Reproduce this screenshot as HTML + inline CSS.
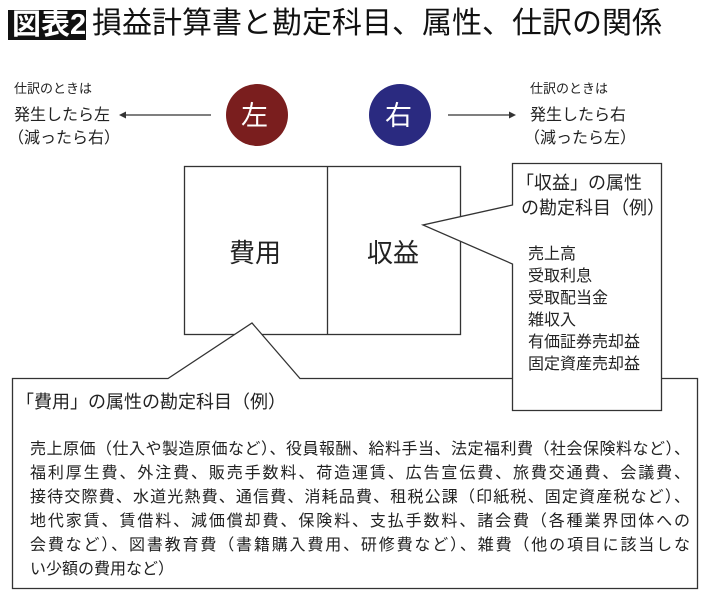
<!DOCTYPE html>
<html><head><meta charset="utf-8"><style>
body{margin:0;background:#fff;width:710px;height:591px;overflow:hidden;position:relative;font-family:"Liberation Sans","Noto Sans CJK JP",sans-serif;color:#222}
.a{position:absolute;white-space:nowrap}
.j{position:absolute;left:30px;width:660px;text-align:justify;text-align-last:justify;font-size:16px;white-space:nowrap;}
</style></head><body>
<svg width="710" height="591" style="position:absolute;left:0;top:0">
<rect x="8" y="10" width="78" height="30" fill="#111"/>
<circle cx="257" cy="115" r="31" fill="#7a1e1e"/>
<circle cx="400" cy="115" r="31" fill="#2a2a80"/>
<g stroke="#333" stroke-width="1.3" fill="none">
<line x1="211" y1="115" x2="124" y2="115"/>
<line x1="448" y1="115" x2="511" y2="115"/>
<rect x="184.5" y="166.5" width="276" height="168"/>
<line x1="327.5" y1="166" x2="327.5" y2="335"/>
</g>
<polygon points="119,115 126,111.5 126,118.5" fill="#333"/>
<polygon points="516,115 509,111.5 509,118.5" fill="#333"/>
<path d="M12.5 378.5 H168 L252 323 L300 378.5 H697.5 V588.5 H12.5 Z" fill="#fff" stroke="#333" stroke-width="1.3"/>
<path d="M512.5 163.5 H661.5 V410.5 H512.5 V264 L423 225 L512.5 205 Z" fill="#fff" stroke="#333" stroke-width="1.3"/>
</svg>
<div class="a" style="left:12px;top:8px;font-size:29px;color:#fff;font-weight:bold;line-height:34px">図表2</div>
<div class="a" style="left:92px;top:6px;font-size:30px;line-height:36px;color:#111">損益計算書と勘定科目、属性、仕訳の関係</div>
<div class="a" style="left:241px;top:101px;font-size:27px;color:#fff;line-height:30px">左</div>
<div class="a" style="left:385px;top:101px;font-size:27px;color:#fff;line-height:30px">右</div>
<div class="a" style="left:14px;top:78px;font-size:13px">仕訳のときは</div>
<div class="a" style="left:14px;top:101px;font-size:16px">発生したら左</div>
<div class="a" style="left:8px;top:124px;font-size:16px">（減ったら右）</div>
<div class="a" style="left:530px;top:78px;font-size:13px">仕訳のときは</div>
<div class="a" style="left:530px;top:101px;font-size:16px">発生したら右</div>
<div class="a" style="left:524px;top:124px;font-size:16px">（減ったら左）</div>
<div class="a" style="left:229px;top:233px;font-size:26px">費用</div>
<div class="a" style="left:367px;top:233px;font-size:26px">収益</div>
<div class="a" style="left:516px;top:171px;font-size:18px;line-height:25px">「収益」の属性<br>&nbsp;の勘定科目（例）</div>
<div class="a" style="left:528px;top:244px;font-size:16px;line-height:22px">売上高<br>受取利息<br>受取配当金<br>雑収入<br>有価証券売却益<br>固定資産売却益</div>
<div class="a" style="left:16px;top:388px;font-size:18px">「費用」の属性の勘定科目（例）</div>
<div class="j" style="top:435px">売上原価（仕入や製造原価など）、役員報酬、給料手当、法定福利費（社会保険料など）、</div>
<div class="j" style="top:459px">福利厚生費、外注費、販売手数料、荷造運賃、広告宣伝費、旅費交通費、会議費、</div>
<div class="j" style="top:483px">接待交際費、水道光熱費、通信費、消耗品費、租税公課（印紙税、固定資産税など）、</div>
<div class="j" style="top:507px">地代家賃、賃借料、減価償却費、保険料、支払手数料、諸会費（各種業界団体への</div>
<div class="j" style="top:531px">会費など）、図書教育費（書籍購入費用、研修費など）、雑費（他の項目に該当しな</div>
<div class="a" style="left:30px;top:555px;font-size:16px">い少額の費用など）</div>
</body></html>
